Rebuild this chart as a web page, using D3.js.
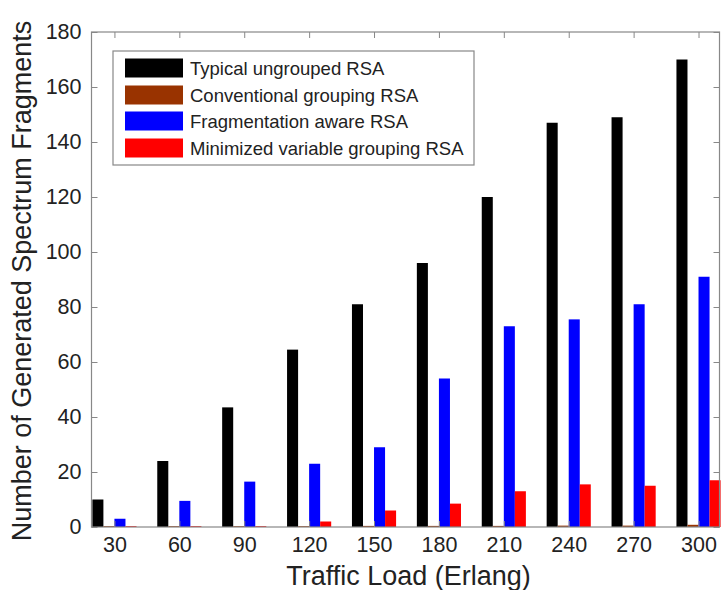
<!DOCTYPE html>
<html><head><meta charset="utf-8">
<script src="https://cdn.jsdelivr.net/npm/d3@7"></script>
<style>body{margin:0;background:#fff}svg{display:block}text{font-family:"Liberation Sans",Arial,sans-serif}</style>
</head><body><svg id="c" width="723" height="590"></svg>
<script>
const loads = [30,60,90,120,150,180,210,240,270,300];
const seriesNames = ["Typical ungrouped RSA","Conventional grouping RSA","Fragmentation aware RSA","Minimized variable grouping RSA"];
const typical = [10,24,43.5,64.5,81,96,120,147,149,170];
const conventional = [0.3,0.3,0.3,0.3,0.4,0.4,0.4,0.5,0.5,0.8];
const fragAware = [3,9.5,16.5,23,29,54,73,75.5,81,91];
const minimized = [0.3,0.3,0.3,2,6,8.5,13,15.5,15,17];
const colors = ["#000000","#993300","#0000ff","#ff0000"];
const yTicks = [0,20,40,60,80,100,120,140,160,180];

const svg = d3.select("#c");
const L=91.5, R=719.5, T=32, B=527;
const x = d3.scaleLinear().domain([19.4,309.7]).range([L,R]);
const y = d3.scaleLinear().domain([0,180]).range([B,T]);
const data = [typical, conventional, fragAware, minimized];
const groupW = x(30+30*0.68)-x(30);
const barW = groupW/4;

const g = svg.append("g");
data.forEach((vals,si)=>{
  g.selectAll(null).data(vals).enter().append("rect")
    .attr("x",(d,i)=>x(loads[i]) - groupW/2 + si*barW)
    .attr("width",barW)
    .attr("y",d=>y(d))
    .attr("height",d=>B-y(d))
    .attr("fill",colors[si]);
});

// axes
const ax = d3.axisBottom(x).tickValues(loads).tickSize(-6).tickPadding(10).tickFormat(d3.format("d"));
const axT = d3.axisTop(x).tickValues(loads).tickSize(-6).tickFormat("");
const ay = d3.axisLeft(y).tickValues(yTicks).tickSize(-6).tickPadding(10);
const ayR = d3.axisRight(y).tickValues(yTicks).tickSize(-6).tickFormat("");
function style(sel){
  sel.selectAll(".domain").remove();
  sel.selectAll("line").attr("stroke","#888").attr("stroke-width",1);
  sel.selectAll("text").attr("fill","#222").style("font-size","21.5px");
}
svg.append("g").attr("transform",`translate(0,${B})`).call(ax).call(style);
svg.append("g").attr("transform",`translate(0,${T})`).call(axT).call(style);
svg.append("g").attr("transform",`translate(${L},0)`).call(ay).call(style);
svg.append("g").attr("transform",`translate(${R},0)`).call(ayR).call(style);
svg.append("rect").attr("x",L).attr("y",T).attr("width",R-L).attr("height",B-T)
  .attr("fill","none").attr("stroke","#888").attr("stroke-width",1.2);

svg.append("text").attr("x",(x(30)+x(300))/2+2).attr("y",585).attr("text-anchor","middle")
  .style("font-size","27px").attr("fill","#222").text("Traffic Load (Erlang)");
svg.append("text").attr("transform",`translate(31,281) rotate(-90)`).attr("text-anchor","middle")
  .style("font-size","27px").attr("fill","#222").text("Number of Generated Spectrum Fragments");

// legend
const lg = svg.append("g");
lg.append("rect").attr("x",113).attr("y",51).attr("width",361).attr("height",114)
  .attr("fill","#fff").attr("stroke","#888").attr("stroke-width",1.2);
const rowY = [68,95,121,148];
seriesNames.forEach((n,i)=>{
  lg.append("rect").attr("x",125).attr("y",rowY[i]-9.5).attr("width",58).attr("height",19).attr("fill",colors[i]);
  lg.append("text").attr("x",190).attr("y",rowY[i]+6.5).style("font-size","18.5px").attr("fill","#222").text(n);
});
</script></body></html>
